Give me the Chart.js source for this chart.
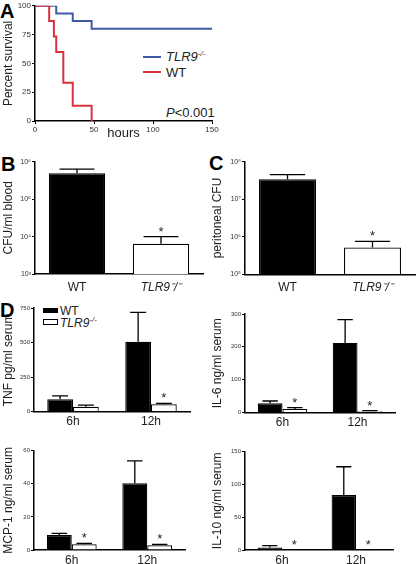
<!DOCTYPE html>
<html>
<head>
<meta charset="utf-8">
<script src="https://cdn.jsdelivr.net/npm/chart.js@4.4.1/dist/chart.umd.min.js"></script>
<style>
  body { margin: 0; background: #fff; width: 416px; height: 564px; position: relative; overflow: hidden;
         font-family: 'Liberation Sans', Arial, sans-serif; color: #222; }
  canvas { position: absolute; }
  .txt { position: absolute; white-space: nowrap; line-height: 1; }
  .letter { font-weight: bold; font-size: 20px; color: #000; }
  .sup { font-size: 8px; position: relative; top: -5px; }
  .swatch { position: absolute; }
</style>
</head>
<body>

<div class="txt letter" style="left:0px;top:1px">A</div>
<div class="txt letter" style="left:1px;top:154px">B</div>
<div class="txt letter" style="left:209px;top:153px">C</div>
<div class="txt letter" style="left:0px;top:300px">D</div>

<!-- panel A legend -->
<div class="swatch" style="left:143px;top:56px;width:18px;height:2px;background:#3d5aa3"></div>
<div class="txt" style="left:166px;top:50px;font-size:13px"><i>TLR9</i><span class="sup"><i>-/-</i></span></div>
<div class="swatch" style="left:143px;top:71px;width:18px;height:2px;background:#d9323a"></div>
<div class="txt" style="left:166px;top:66px;font-size:13px">WT</div>
<div class="txt" style="left:166px;top:106px;font-size:13px"><i>P</i>&lt;0.001</div>

<!-- panel D legend -->
<div class="swatch" style="left:43px;top:308px;width:15px;height:5px;background:#000"></div>
<div class="txt" style="left:60px;top:305px;font-size:12px">WT</div>
<div class="swatch" style="left:43px;top:319px;width:13px;height:4px;border:1px solid #000;background:#fff"></div>
<div class="txt" style="left:60px;top:317px;font-size:12px"><i>TLR9</i><span class="sup"><i>-/-</i></span></div>

<script>
// ---- A: survival after infection (step curves)
const wtHours = [0, 12, 16, 18, 24, 32, 48];
const wtSurvival = [100, 86.7, 73.3, 60, 33.3, 13.3, 0];
const koHours = [0, 18, 32, 48, 150];
const koSurvival = [100, 93.3, 86.7, 80, 80];
const hourTicks = [0, 50, 100, 150];
const survivalTicks = [0, 25, 50, 75, 100];

// ---- B / C: bacterial counts
const groups = ['WT', 'TLR9⁻/⁻'];
const bloodCFU = [4.9e5, 6.4e3];
const bloodCFUErr = [1.4e5, 3.6e3];
const bloodTicks = [1e3, 1e4, 1e5, 1e6];
const bloodTickLabels = ['10³', '10⁴', '10⁵', '10⁶'];
const periCFU = [3.4e7, 5.2e5];
const periCFUErr = [1.1e7, 2.3e5];
const periTicks = [1e5, 1e6, 1e7, 1e8];
const periTickLabels = ['10⁵', '10⁶', '10⁷', '10⁸'];
const groupStars = [false, true];

// ---- D: serum cytokines
const timepoints = ['6h', '12h'];
const tnfWT = [90, 507];
const tnfWTErr = [24, 213];
const tnfKO = [36, 54];
const tnfKOErr = [12, 7];
const tnfStars = [false, true];
const il6WT = [28, 212];
const il6WTErr = [7, 71];
const il6KO = [11, 4];
const il6KOErr = [4, 2];
const mcpWT = [9.1, 40.3];
const mcpWTErr = [1, 13.5];
const mcpKO = [3.4, 2.8];
const mcpKOErr = [0.6, 0.6];
const il10WT = [4, 84];
const il10WTErr = [2.6, 43];
const il10KO = [0, 0];
const il10KOErr = [0, 0];
const bothStars = [true, true];

Chart.defaults.font.family = "'Liberation Sans', Arial, sans-serif";
Chart.defaults.color = '#222';

// upward error bars + significance stars
const errorBars = {
  id: 'errorBars',
  afterDatasetsDraw(chart) {
    const ctx = chart.ctx;
    const y = chart.scales.y;
    chart.data.datasets.forEach((ds, i) => {
      if (!ds.errors) return;
      chart.getDatasetMeta(i).data.forEach((bar, j) => {
        const top = y.getPixelForValue(ds.data[j] + ds.errors[j]);
        ctx.save();
        ctx.strokeStyle = '#000';
        ctx.lineWidth = 1.3;
        if (ds.errors[j] > 0) {
          const cap = bar.width * 0.31;
          ctx.beginPath();
          ctx.moveTo(bar.x, bar.y);
          ctx.lineTo(bar.x, top);
          ctx.moveTo(bar.x - cap, top);
          ctx.lineTo(bar.x + cap, top);
          ctx.stroke();
        }
        if (ds.stars && ds.stars[j]) {
          ctx.fillStyle = '#222';
          ctx.font = "13px 'Liberation Sans', Arial, sans-serif";
          ctx.textAlign = 'center';
          ctx.textBaseline = 'alphabetic';
          ctx.fillText('*', bar.x, top - 1);
        }
        ctx.restore();
      });
    });
  }
};

function place(box, area, config) {
  const cv = document.createElement('canvas');
  cv.width = box[2];
  cv.height = box[3];
  cv.style.left = box[0] + 'px';
  cv.style.top = box[1] + 'px';
  document.body.appendChild(cv);
  const o = config.options;
  o.responsive = false;
  o.animation = false;
  o.devicePixelRatio = 1;
  o.layout = { padding: { left: 0, bottom: 0, top: area[1] - box[1], right: box[0] + box[2] - area[2] } };
  o.scales.y.afterFit = s => { s.width = area[0] - box[0]; };
  o.scales.x.afterFit = s => { s.height = box[1] + box[3] - area[3]; };
  o.plugins = { legend: { display: false }, tooltip: { enabled: false } };
  config.plugins = [errorBars];
  return new Chart(cv, config);
}

const axisBorder = { display: true, color: '#000', width: 1.5 };
const yGrid = { drawOnChartArea: false, drawTicks: true, tickLength: 3, color: '#000', lineWidth: 1 };
const yTitle = text => ({ display: true, text: text, color: '#222', font: { size: 12 }, padding: { top: 1, bottom: 0 } });

// ---------- A
place([0, 0, 222, 142], [35, 3, 212, 121], {
  type: 'line',
  data: {
    datasets: [
      { data: wtHours.map((h, i) => ({ x: h, y: wtSurvival[i] })), borderColor: '#d9323a', borderWidth: 2, stepped: true, pointRadius: 0 },
      { data: koHours.map((h, i) => ({ x: h, y: koSurvival[i] })), borderColor: '#3d5aa3', borderWidth: 2, stepped: true, pointRadius: 0 }
    ]
  },
  options: {
    scales: {
      x: {
        type: 'linear', min: 0, max: 150,
        afterBuildTicks: s => { s.ticks = hourTicks.map(v => ({ value: v })); },
        ticks: { font: { size: 8 }, color: '#333', padding: 1, maxRotation: 0 },
        grid: { drawOnChartArea: false, drawTicks: true, tickLength: 3, color: '#000' },
        border: axisBorder,
        title: { display: true, text: 'hours', color: '#222', font: { size: 13 }, padding: { top: 0, bottom: 1 } }
      },
      y: {
        min: 0, max: 100,
        afterBuildTicks: s => { s.ticks = survivalTicks.map(v => ({ value: v })); },
        ticks: { font: { size: 8 }, color: '#333', padding: 1 },
        grid: yGrid,
        border: axisBorder,
        title: yTitle('Percent survival')
      }
    }
  }
});

// ---------- B / C
function cfuPanel(box, area, values, errs, ticks, tickLabels, title) {
  place(box, area, {
    type: 'bar',
    data: {
      labels: groups,
      datasets: [{
        data: values, errors: errs, stars: groupStars,
        backgroundColor: ['#000', '#fff'], borderColor: '#000', borderWidth: 1.2,
        barPercentage: 0.67, categoryPercentage: 1
      }]
    },
    options: {
      scales: {
        x: {
          ticks: { font: c => ({ size: 12, style: c.index === 1 ? 'italic' : 'normal' }), color: '#222', padding: 6 },
          grid: { display: false, drawTicks: false },
          border: axisBorder
        },
        y: {
          type: 'logarithmic', min: ticks[0], max: ticks[ticks.length - 1],
          afterBuildTicks: s => { s.ticks = ticks.map(v => ({ value: v })); },
          ticks: { font: { size: 7 }, color: '#333', padding: 1, callback: (v, i) => tickLabels[i] },
          grid: yGrid,
          border: axisBorder,
          title: yTitle(title)
        }
      }
    }
  });
}
cfuPanel([0, 150, 210, 150], [35, 161.7, 203, 274], bloodCFU, bloodCFUErr, bloodTicks, bloodTickLabels, 'CFU/ml blood');
cfuPanel([209, 150, 207, 150], [245, 161.7, 415, 274.3], periCFU, periCFUErr, periTicks, periTickLabels, 'peritoneal CFU');

// ---------- D
function cytokinePanel(box, area, wt, wtErr, ko, koErr, koStars, max, step, title) {
  place(box, area, {
    type: 'bar',
    data: {
      labels: timepoints,
      datasets: [
        { data: wt, errors: wtErr, backgroundColor: '#000', borderColor: '#000', borderWidth: 1.2,
          barPercentage: 1, categoryPercentage: 0.66 },
        { data: ko, errors: koErr, stars: koStars, backgroundColor: '#fff', borderColor: '#000', borderWidth: 1.2,
          barPercentage: 1, categoryPercentage: 0.66 }
      ]
    },
    options: {
      scales: {
        x: {
          ticks: { font: { size: 12 }, color: '#222', padding: 3 },
          grid: { display: false, drawTicks: false },
          border: axisBorder
        },
        y: {
          min: 0, max: max,
          ticks: { stepSize: step, font: { size: 6 }, color: '#333', padding: 1 },
          grid: yGrid,
          border: axisBorder,
          title: yTitle(title)
        }
      }
    }
  });
}
cytokinePanel([0, 300, 205, 130], [34, 308.2, 190, 411.7], tnfWT, tnfWTErr, tnfKO, tnfKOErr, tnfStars, 750, 250, 'TNF pg/ml serum');
cytokinePanel([209, 300, 207, 130], [245, 314, 395, 412.5], il6WT, il6WTErr, il6KO, il6KOErr, bothStars, 300, 100, 'IL-6 ng/ml serum');
cytokinePanel([0, 440, 205, 124], [34, 450.7, 185, 550], mcpWT, mcpWTErr, mcpKO, mcpKOErr, bothStars, 60, 20, 'MCP-1 ng/ml serum');
cytokinePanel([209, 440, 207, 124], [245, 451.7, 393, 550], il10WT, il10WTErr, il10KO, il10KOErr, bothStars, 150, 50, 'IL-10 ng/ml serum');
</script>
</body>
</html>
